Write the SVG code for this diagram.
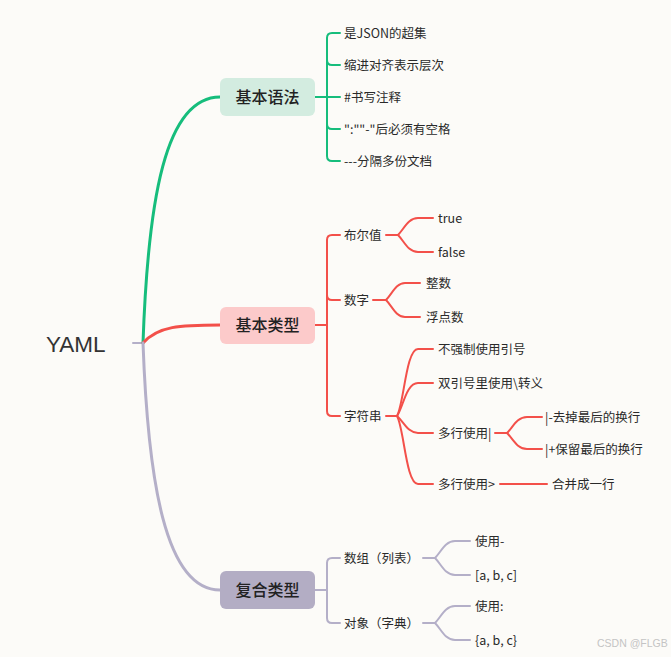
<svg xmlns="http://www.w3.org/2000/svg" width="671" height="657" viewBox="0 0 671 657">
<style>
.t{font-family:"Noto Sans CJK SC","Noto Sans",sans-serif;font-size:12.5px;fill:#2a2a2a}
.m{font-family:"Noto Sans CJK SC","Noto Sans",sans-serif;font-size:16px;font-weight:500;fill:#222;text-anchor:middle}
.g{fill:none;stroke:#16bd7c;stroke-linecap:round;stroke-linejoin:round}
.r{fill:none;stroke:#f3504a;stroke-linecap:round;stroke-linejoin:round}
.p{fill:none;stroke:#b4afc8;stroke-linecap:round;stroke-linejoin:round}
.w3{stroke-width:3}
.w2{stroke-width:2}
</style>
<rect width="671" height="657" fill="#fcfbf8"/>
<g id="connectors">
  <path class="p w2" d="M133,343 H143"/>
  <path class="g w3" d="M143,343 C148,200 165,97 220,97"/>
  <path class="r w3" d="M143,343 C158,326 180,325 220,325"/>
  <path class="p w3" d="M143,343 C148,480 165,590 220,590"/>
  <!-- green bracket -->
  <path class="g w2" d="M315,97 H340"/>
  <path class="g w2" d="M340,33 H332 Q327,33 327,38 V156 Q327,161 332,161 H340"/>
  <path class="g w2" d="M327,60 Q327,65 332,65 H340"/>
  <path class="g w2" d="M327,124 Q327,129 332,129 H340"/>
  <!-- red bracket -->
  <path class="r w2" d="M315,325 H327"/>
  <path class="r w2" d="M340,235 H332 Q327,235 327,240 V411 Q327,416 332,416 H340"/>
  <path class="r w2" d="M327,295 Q327,300 332,300 H340"/>
  <!-- bool fork -->
  <path class="r w2" d="M386,235 H398 C404,229 408,218 418,218 H433"/>
  <path class="r w2" d="M398,235 C404,241 408,252 418,252 H433"/>
  <!-- number fork -->
  <path class="r w2" d="M373,300 H386 C392,294 396,283 405,283 H420"/>
  <path class="r w2" d="M386,300 C392,306 396,317 405,317 H420"/>
  <!-- string fork -->
  <path class="r w2" d="M386,416 H397 C404,404 406,349 418,349 H433"/>
  <path class="r w2" d="M397,416 C403,408 406,383 418,383 H433"/>
  <path class="r w2" d="M397,416 C404,422 408,433 418,433 H433"/>
  <path class="r w2" d="M397,416 C404,428 406,484 418,484 H433"/>
  <!-- multiline | fork -->
  <path class="r w2" d="M495,433 H507 C513,427 517,417 527,417 H542"/>
  <path class="r w2" d="M507,433 C513,439 517,449 527,449 H542"/>
  <!-- multiline > -->
  <path class="r w2" d="M500,484 H547"/>
  <!-- gray bracket -->
  <path class="p w2" d="M315,590 H327"/>
  <path class="p w2" d="M340,558 H332 Q327,558 327,563 V618 Q327,623 332,623 H340"/>
  <!-- array fork -->
  <path class="p w2" d="M423,558 H435 C441,552 445,541 455,541 H470"/>
  <path class="p w2" d="M435,558 C441,564 445,575 455,575 H470"/>
  <!-- object fork -->
  <path class="p w2" d="M423,623 H435 C441,617 445,606 455,606 H470"/>
  <path class="p w2" d="M435,623 C441,629 445,640 455,640 H470"/>
</g>
<g id="root"><text x="46" y="352" font-family="Liberation Sans,Arial,sans-serif" font-size="22.5" fill="#333">YAML</text></g>
<g id="n-syntax"><rect x="220" y="78" width="95" height="38" rx="6" fill="#d3ece0"/><text class="m" x="267.5" y="102.5">基本语法</text></g>
<g id="n-basic"><rect x="220" y="307" width="95" height="37" rx="6" fill="#fccaca"/><text class="m" x="267.5" y="331">基本类型</text></g>
<g id="n-complex"><rect x="220" y="571" width="95" height="38" rx="6" fill="#b3adc4"/><text class="m" x="267.5" y="595.5">复合类型</text></g>
<g id="s1"><text class="t" x="344" y="37.5">是JSON的超集</text></g>
<g id="s2"><text class="t" x="344" y="69.5">缩进对齐表示层次</text></g>
<g id="s3"><text class="t" x="344" y="101.5">#书写注释</text></g>
<g id="s4"><text class="t" x="344" y="133.5">":""-"后必须有空格</text></g>
<g id="s5"><text class="t" x="344" y="165.5">---分隔多份文档</text></g>
<g id="b-bool"><text class="t" x="344" y="239.5">布尔值</text></g>
<g id="b-true"><text class="t" x="438" y="222.5">true</text></g>
<g id="b-false"><text class="t" x="438" y="256.5">false</text></g>
<g id="b-num"><text class="t" x="344" y="304.5">数字</text></g>
<g id="b-int"><text class="t" x="426" y="287.5">整数</text></g>
<g id="b-float"><text class="t" x="426" y="321.5">浮点数</text></g>
<g id="b-str"><text class="t" x="344" y="420.5">字符串</text></g>
<g id="b-s1"><text class="t" x="438" y="353.5">不强制使用引号</text></g>
<g id="b-s2"><text class="t" x="438" y="387.5">双引号里使用\转义</text></g>
<g id="b-s3"><text class="t" x="438" y="437.5">多行使用|</text></g>
<g id="b-s3a"><text class="t" x="545" y="421.5">|-去掉最后的换行</text></g>
<g id="b-s3b"><text class="t" x="545" y="453.5">|+保留最后的换行</text></g>
<g id="b-s4"><text class="t" x="438" y="488.5">多行使用&gt;</text></g>
<g id="b-s4a"><text class="t" x="552" y="488.5">合并成一行</text></g>
<g id="c-arr"><text class="t" x="344" y="562.5">数组（列表）</text></g>
<g id="c-arr1"><text class="t" x="475" y="545.5">使用-</text></g>
<g id="c-arr2"><text class="t" x="475" y="579.5">[a, b, c]</text></g>
<g id="c-obj"><text class="t" x="344" y="627.5">对象（字典）</text></g>
<g id="c-obj1"><text class="t" x="475" y="610.5">使用:</text></g>
<g id="c-obj2"><text class="t" x="475" y="644.5">{a, b, c}</text></g>
<text x="597" y="647" font-family="Liberation Sans,Arial,sans-serif" font-size="10.5" fill="#c4c4c4">CSDN @FLGB</text>
</svg>
